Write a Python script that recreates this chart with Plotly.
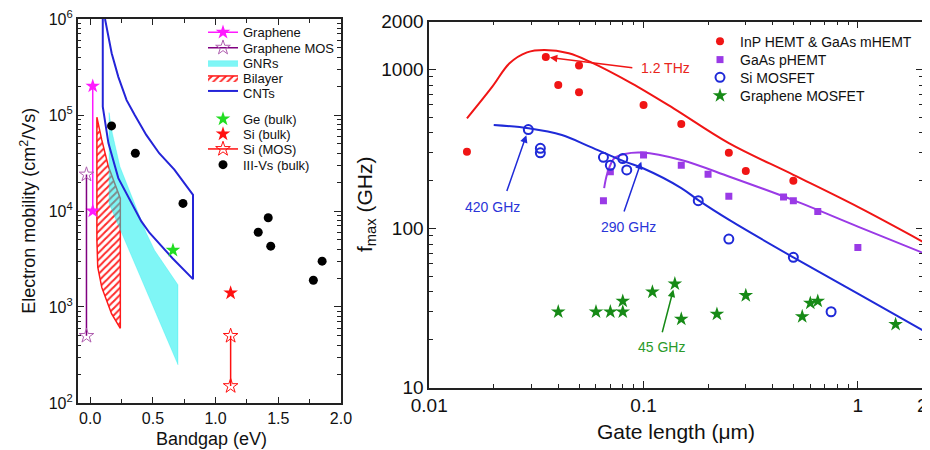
import numpy as np
import plotly.graph_objects as go

# The page body has an 8 px margin, so the figure is drawn 8 px in from the
# window corner; the figure is sized to the remaining visible area.
OFF = 8
W, H = 930 - OFF, 450 - OFF
FONT = "Liberation Sans, Arial, Helvetica, sans-serif"
EPS = 0.0005  # tiny range padding so the end ticks keep their labels

# ---------------- Left panel data: mobility vs bandgap ----------------
graphene_x = [0.02, 0.02]
graphene_y = [2.0e5, 1.0e4]
graphene_mos_x = [-0.03, -0.03]
graphene_mos_y = [2.4e4, 500]

gnr_x = [0.15, 0.176, 0.237, 0.342, 0.447, 0.513, 0.70, 0.70, 0.15, 0.15]
gnr_y = [1.06e5, 6.5e4, 2.9e4, 1.3e4, 5.9e3, 3.9e3, 1.7e3, 250, 1.2e4, 1.06e5]

bilayer_x = [0.053, 0.092, 0.145, 0.24, 0.24, 0.17, 0.092, 0.06, 0.053, 0.053]
bilayer_y = [9.5e4, 5.5e4, 2.9e4, 1.35e4, 600, 850, 1.6e3, 2.6e3, 5.0e3, 9.5e4]

cnt_x = [0.10, 0.10, 0.145, 0.224, 0.408, 0.474, 0.658, 0.82,
         0.82, 0.671, 0.55, 0.447, 0.355, 0.29, 0.224, 0.171, 0.118]
cnt_y = [1.0e6, 1.22e5, 5.1e4, 2.2e4, 7.8e3, 5.9e3, 3.2e3, 1.95e3,
         1.47e4, 2.7e4, 4.0e4, 6.2e4, 1.0e5, 1.43e5, 2.5e5, 4.4e5, 1.0e6]

ge_x, ge_y = [0.66], [3.9e3]
si_bulk_x, si_bulk_y = [1.12], [1.4e3]
si_mos_x, si_mos_y = [1.12, 1.12], [500, 150]
iiiv_x = [0.17, 0.36, 0.74, 1.34, 1.42, 1.44, 1.78, 1.85]
iiiv_y = [7.7e4, 4.0e4, 1.2e4, 6.0e3, 8.5e3, 4.3e3, 1.9e3, 3.0e3]

# ---------------- Right panel data: fmax vs gate length ----------------
inp_x = [0.015, 0.035, 0.04, 0.05, 0.05, 0.1, 0.15, 0.25, 0.3, 0.5]
inp_y = [305, 1200, 800, 1060, 720, 600, 455, 300, 230, 200]
phemt_x = [0.065, 0.07, 0.1, 0.15, 0.2, 0.25, 0.45, 0.5, 0.65, 1.0]
phemt_y = [150, 228, 290, 250, 220, 160, 158, 150, 128, 76]
simos_x = [0.029, 0.033, 0.033, 0.065, 0.07, 0.08, 0.0835, 0.18, 0.25, 0.5, 0.75]
simos_y = [420, 320, 300, 281, 250, 276, 234, 150, 86, 66, 30]
grmos_x = [0.04, 0.06, 0.07, 0.08, 0.08, 0.11, 0.14, 0.15, 0.22, 0.3, 0.55, 0.6, 0.65, 1.5]
grmos_y = [30, 30, 30, 35, 30, 40, 45, 27, 29, 38, 28, 34, 35, 25]

inp_fit_x = [0.015, 0.0197, 0.0237, 0.0286, 0.0344, 0.0448, 0.0561, 0.088, 0.138, 0.25, 0.5, 1.0, 2.0]
inp_fit_y = [494, 782, 1097, 1285, 1330, 1268, 1123, 820, 571, 345, 218, 137, 83]
phemt_fit_x = [0.0655, 0.0678, 0.073, 0.0817, 0.0983, 0.15, 0.252, 0.5, 1.0, 2.0]
phemt_fit_y = [180, 223, 277, 295, 301, 270, 212, 151, 103, 70.6]
simos_fit_x = [0.02, 0.0291, 0.0416, 0.0561, 0.0817, 0.1, 0.15, 0.18, 0.252, 0.5, 1.0, 2.0]
simos_fit_y = [449, 428, 388, 328, 264, 239, 180, 151, 113, 66, 39, 23]

left_xticks = [0.0, 0.5, 1.0, 1.5, 2.0]
left_xticktext = ["0.0", "0.5", "1.0", "1.5", "2.0"]
left_yticks = [1e2, 1e3, 1e4, 1e5, 1e6]
left_yticktext = ["10<sup>2</sup>", "10<sup>3</sup>", "10<sup>4</sup>", "10<sup>5</sup>", "10<sup>6</sup>"]
right_xticks = [0.01, 0.1, 1, 2]
right_xticktext = ["0.01", "0.1", "1", "2"]
right_yticks = [10, 100, 1000, 2000]
right_yticktext = ["10", "100", "1000", "2000"]


def px(x):
    """window pixel x -> paper fraction"""
    return (x - OFF) / W


def py(y):
    """window pixel y -> paper fraction"""
    return 1 - (y - OFF) / H


def log_minor(lo_exp, hi_exp, upper=None):
    vals = []
    for e in range(lo_exp, hi_exp):
        for d in range(2, 10):
            v = d * 10 ** e
            if upper is None or v < upper:
                vals.append(v)
    return vals


fig = go.Figure()
L = dict(xaxis="x", yaxis="y")
R = dict(xaxis="x2", yaxis="y2")

# left panel regions
fig.add_trace(go.Scatter(x=bilayer_x, y=bilayer_y, mode="lines", fill="toself",
                         fillcolor="white",
                         fillpattern=dict(shape="/", fgcolor="#ff2a2a", bgcolor="white",
                                          size=5, solidity=0.4),
                         line=dict(color="#ff1a1a", width=1.5),
                         name="Bilayer", legend="legend4", **L))
fig.add_trace(go.Scatter(x=gnr_x, y=gnr_y, mode="lines", fill="toself",
                         fillcolor="rgba(0,238,238,0.5)",
                         line=dict(color="rgba(0,238,238,0.5)", width=0.5),
                         name="GNRs", legend="legend3", **L))
fig.add_trace(go.Scatter(x=cnt_x, y=cnt_y, mode="lines", fill="toself",
                         fillcolor="rgba(255,255,255,0)",
                         line=dict(color="#2424d8", width=2),
                         name="CNTs", legend="legend5", **L))
fig.add_trace(go.Scatter(x=graphene_x, y=graphene_y, mode="lines+markers",
                         line=dict(color="#ff1aff", width=1.5),
                         marker=dict(symbol="star", size=11, color="#ff1aff"),
                         name="Graphene", legend="legend", **L))
fig.add_trace(go.Scatter(x=graphene_mos_x, y=graphene_mos_y, mode="lines+markers",
                         line=dict(color="#800080", width=1.5),
                         marker=dict(symbol="star-open", size=11, color="#b060b0",
                                     line=dict(width=1)),
                         name="Graphene MOS", legend="legend2", **L))
fig.add_trace(go.Scatter(x=ge_x, y=ge_y, mode="markers",
                         marker=dict(symbol="star", size=11, color="#22dd22"),
                         name="Ge (bulk)", legend="legend6", **L))
fig.add_trace(go.Scatter(x=si_bulk_x, y=si_bulk_y, mode="markers",
                         marker=dict(symbol="star", size=11, color="#ff1010"),
                         name="Si (bulk)", legend="legend7", **L))
fig.add_trace(go.Scatter(x=si_mos_x, y=si_mos_y, mode="lines+markers",
                         line=dict(color="#ff1010", width=1.5),
                         marker=dict(symbol="star-open", size=11, color="#ff1010",
                                     line=dict(width=1)),
                         name="Si (MOS)", legend="legend8", **L))
fig.add_trace(go.Scatter(x=iiiv_x, y=iiiv_y, mode="markers",
                         marker=dict(symbol="circle", size=9, color="black"),
                         name="III-Vs (bulk)", legend="legend9", **L))

# right panel
fig.add_trace(go.Scatter(x=inp_fit_x, y=inp_fit_y, mode="lines", line_shape="spline",
                         line=dict(color="#f01515", width=2), showlegend=False, **R))
fig.add_trace(go.Scatter(x=phemt_fit_x, y=phemt_fit_y, mode="lines", line_shape="spline",
                         line=dict(color="#9a3ae6", width=2), showlegend=False, **R))
fig.add_trace(go.Scatter(x=simos_fit_x, y=simos_fit_y, mode="lines", line_shape="spline",
                         line=dict(color="#1f2ad8", width=2), showlegend=False, **R))
fig.add_trace(go.Scatter(x=inp_x, y=inp_y, mode="markers",
                         marker=dict(symbol="circle", size=8, color="#f01515"),
                         name="InP HEMT &amp; GaAs mHEMT", legend="legend10", **R))
fig.add_trace(go.Scatter(x=phemt_x, y=phemt_y, mode="markers",
                         marker=dict(symbol="square", size=7, color="#9a3ae6"),
                         name="GaAs pHEMT", legend="legend11", **R))
fig.add_trace(go.Scatter(x=simos_x, y=simos_y, mode="markers",
                         marker=dict(symbol="circle-open", size=9, color="#1f2ad8",
                                     line=dict(width=2)),
                         name="Si MOSFET", legend="legend12", **R))
fig.add_trace(go.Scatter(x=grmos_x, y=grmos_y, mode="markers",
                         marker=dict(symbol="star", size=11, color="#168a16"),
                         name="Graphene MOSFET", legend="legend13", **R))

axis_common = dict(showline=True, linecolor="#222", linewidth=1.5, mirror="allticks",
                   ticks="inside", tickcolor="#222", tickwidth=1.2, showgrid=False,
                   zeroline=False, automargin=False, ticklabeloverflow="allow")

fig.update_layout(
    template="none",
    width=W, height=H, margin=dict(l=0, r=0, t=0, b=0, autoexpand=False),
    paper_bgcolor="white", plot_bgcolor="white",
    font=dict(family=FONT, color="#111"),
    xaxis=dict(domain=[px(77.7), px(341)], anchor="y", range=[-0.1, 2.0 + EPS],
               tickmode="array", tickvals=left_xticks, ticktext=left_xticktext,
               ticklen=6, tickfont=dict(size=16, color="#111"),
               minor=dict(tickmode="array", tickvals=[0.25, 0.75, 1.25, 1.75],
                          ticks="inside", ticklen=4, tickcolor="#222"),
               **axis_common),
    yaxis=dict(domain=[py(403), py(19)], anchor="x", type="log", range=[2 - EPS, 6 + EPS],
               tickmode="array", tickvals=left_yticks, ticktext=left_yticktext,
               ticklen=7, tickfont=dict(size=16, color="#111"),
               minor=dict(tickmode="array", tickvals=log_minor(2, 6),
                          ticks="inside", ticklen=4, tickcolor="#222"),
               **axis_common),
    xaxis2=dict(domain=[px(429.1), px(922.5)], anchor="y2", type="log",
                range=[-2 - EPS, np.log10(2) + EPS],
                tickmode="array", tickvals=right_xticks, ticktext=right_xticktext,
                ticklen=7, tickfont=dict(size=19, color="#111"),
                minor=dict(tickmode="array", tickvals=log_minor(-2, 1, upper=2),
                           ticks="inside", ticklen=4, tickcolor="#222"),
                **axis_common),
    yaxis2=dict(domain=[py(387.7), py(21.7)], anchor="x2", type="log",
                range=[1 - EPS, np.log10(2000) + EPS],
                tickmode="array", tickvals=right_yticks, ticktext=right_yticktext,
                ticklen=7, tickfont=dict(size=19, color="#111"),
                minor=dict(tickmode="array", tickvals=log_minor(1, 4, upper=2000),
                           ticks="inside", ticklen=4, tickcolor="#222"),
                **axis_common),
)

# individual legends (one entry each, to reproduce tight row spacing)
left_rows = {"legend": 32.3, "legend2": 47.7, "legend3": 62.7, "legend4": 78,
             "legend5": 93, "legend6": 119, "legend7": 134, "legend8": 149,
             "legend9": 164.7}
for key, row in left_rows.items():
    fig.update_layout({key: dict(x=px(203), y=py(row), xanchor="left", yanchor="middle",
                                 bgcolor="rgba(0,0,0,0)", borderwidth=0, itemwidth=30,
                                 font=dict(size=13, family=FONT, color="#111"))})
right_rows = {"legend10": 41.7, "legend11": 60, "legend12": 77.7, "legend13": 96}
for key, row in right_rows.items():
    fig.update_layout({key: dict(x=px(700), y=py(row), xanchor="left", yanchor="middle",
                                 bgcolor="rgba(0,0,0,0)", borderwidth=0, itemwidth=30,
                                 font=dict(size=14, family=FONT, color="#111"))})

# axis titles
title_font = dict(family=FONT, color="#111")
fig.add_annotation(text="Bandgap (eV)", xref="paper", yref="paper", x=px(211), y=py(438.5),
                   xanchor="center", yanchor="middle", showarrow=False,
                   font=dict(size=18, **title_font))
fig.add_annotation(text="Electron mobility (cm<sup>2</sup>/Vs)", xref="paper", yref="paper",
                   x=px(28.7), y=py(211), xanchor="center", yanchor="middle",
                   textangle=-90, showarrow=False, font=dict(size=18, **title_font))
fig.add_annotation(text="Gate length (μm)", xref="paper", yref="paper", x=px(676),
                   y=py(431), xanchor="center", yanchor="middle", showarrow=False,
                   font=dict(size=21, **title_font))
fig.add_annotation(text="f<sub>max</sub> (GHz)", xref="paper", yref="paper", x=px(366),
                   y=py(205), xanchor="center", yanchor="middle", textangle=-90,
                   showarrow=False, font=dict(size=21, **title_font))

# arrows pointing at highlighted devices (log axes -> log10 coordinates)
arrows = [
    (inp_x[1], inp_y[1], 88, 11, "#f01515", 4),
    (simos_x[0], simos_y[0], -22, 63, "#1f2ad8", 6),
    (phemt_x[2], phemt_y[2], -20, 58, "#1f2ad8", 7),
    (grmos_x[6], grmos_y[6], -13, 50, "#168a16", 6),
]
for xv, yv, ax, ay, col, so in arrows:
    fig.add_annotation(x=np.log10(xv), y=np.log10(yv), xref="x2", yref="y2", text="",
                       showarrow=True, ax=ax, ay=ay, arrowhead=2, arrowsize=1,
                       arrowwidth=1.5, arrowcolor=col, standoff=so)

labels = [
    ("1.2 THz", 0.0956, 1020, "left", "#e8251c"),
    ("420 GHz", 0.0198, 136, "center", "#2a35d8"),
    ("290 GHz", 0.0847, 103, "center", "#2a35d8"),
    ("45 GHz", 0.1213, 18.1, "center", "#2a9a2a"),
]
for txt, xv, yv, anc, col in labels:
    fig.add_annotation(x=np.log10(xv), y=np.log10(yv), xref="x2", yref="y2", text=txt,
                       showarrow=False, xanchor=anc, yanchor="middle",
                       font=dict(size=14, family=FONT, color=col))

fig.write_html("out.html")
